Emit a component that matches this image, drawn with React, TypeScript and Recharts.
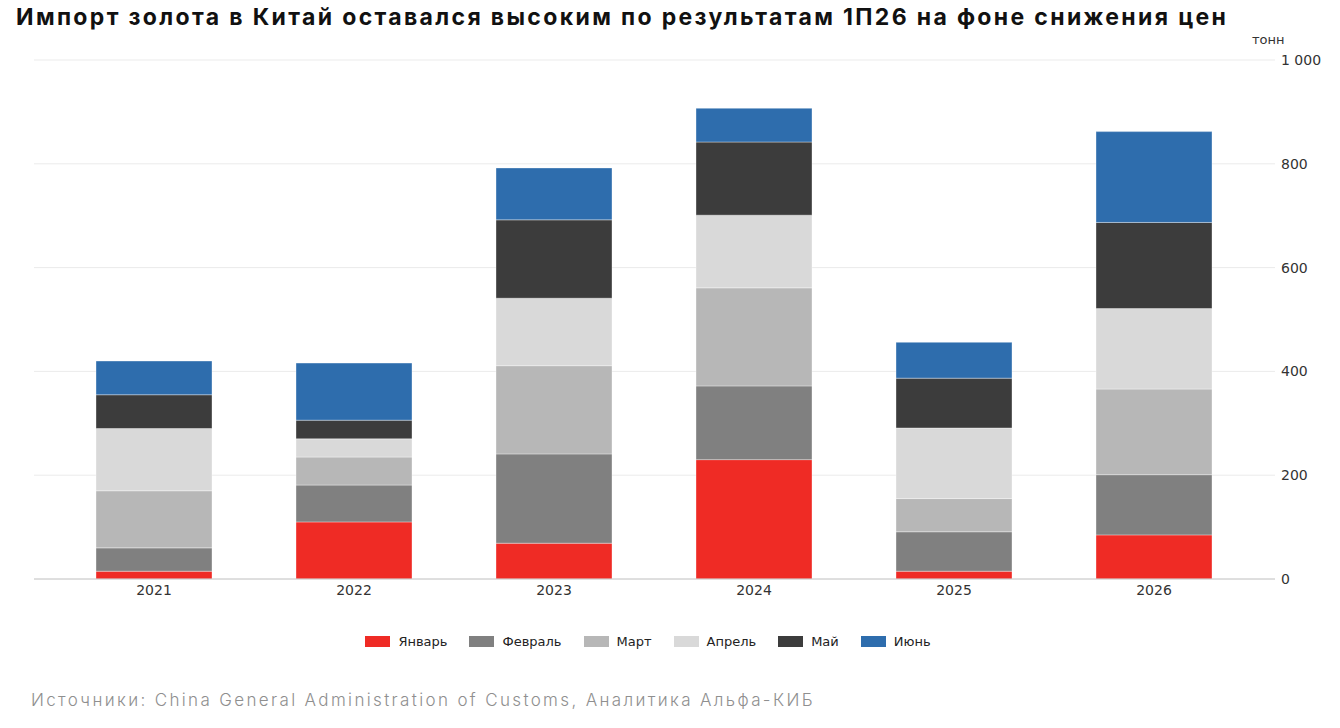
import { BarChart, Bar, XAxis, YAxis, CartesianGrid, Legend } from "recharts"

const RED = "#ef2b25"
const GREY = "#808080"
const SILVER = "#b7b7b7"
const LIGHT = "#d9d9d9"
const DARK = "#3c3c3c"
const BLUE = "#2e6dad"

const years = ["2021", "2022", "2023", "2024", "2025", "2026"]
const jan = [15, 110, 69, 230, 15, 85]
const feb = [45, 71, 172, 142, 76, 116]
const mar = [110, 54, 170, 189, 64, 165]
const apr = [120, 35, 130, 140, 136, 155]
const may = [65, 36, 151, 141, 96, 166]
const jun = [65, 110, 100, 65, 69, 175]
const yTicks = [0, 200, 400, 600, 800, 1000]

const series = [
  { key: "jan", name: "Январь", color: RED, values: jan },
  { key: "feb", name: "Февраль", color: GREY, values: feb },
  { key: "mar", name: "Март", color: SILVER, values: mar },
  { key: "apr", name: "Апрель", color: LIGHT, values: apr },
  { key: "may", name: "Май", color: DARK, values: may },
  { key: "jun", name: "Июнь", color: BLUE, values: jun },
]

const data = years.map((year, i) => {
  const row: Record<string, string | number> = { year }
  series.forEach((s) => {
    row[s.key] = s.values[i]
  })
  return row
})

const AXIS_FONT = "'DejaVu Sans', sans-serif"

const fmt = (v: number) => String(v).replace(/\B(?=(\d{3})+(?!\d))/g, " ")

function MonthLegend() {
  return (
    <div
      style={{
        height: 20,
        display: "flex",
        justifyContent: "center",
        alignItems: "center",
        fontFamily: AXIS_FONT,
        fontSize: 13,
        color: "#222",
      }}
    >
      {series.map((s) => (
        <div key={s.key} style={{ display: "flex", alignItems: "center", margin: "0 11px" }}>
          <span style={{ width: 25, height: 11, background: s.color, marginRight: 8 }} />
          <span>{s.name}</span>
        </div>
      ))}
    </div>
  )
}

export default function App() {
  return (
    <div
      style={{
        position: "fixed",
        left: 0,
        top: 0,
        width: 1340,
        height: 728,
        background: "#fff",
        overflow: "hidden",
      }}
    >
      <div
        style={{
          position: "absolute",
          left: 16,
          top: 3,
          fontFamily: "Inter, sans-serif",
          fontWeight: 700,
          fontSize: 23,
          letterSpacing: 2.35,
          color: "#111",
          whiteSpace: "nowrap",
        }}
      >
        Импорт золота в Китай оставался высоким по результатам 1П26 на фоне снижения цен
      </div>
      <div
        style={{
          position: "absolute",
          left: 1252,
          top: 32,
          fontFamily: AXIS_FONT,
          fontSize: 13,
          color: "#333",
        }}
      >
        тонн
      </div>
      <BarChart
        width={1340}
        height={728}
        data={data}
        margin={{ top: 60, right: 0, left: 34, bottom: 99 }}
        style={{ position: "absolute", left: 0, top: 0 }}
      >
        <CartesianGrid vertical={false} stroke="#ebebeb" />
        <XAxis
          dataKey="year"
          height={30}
          padding={{ left: 20, right: 21 }}
          tickLine={false}
          tickMargin={0}
          stroke="#c8c8c8"
          tick={{ fill: "#333", fontSize: 14, fontFamily: AXIS_FONT }}
        />
        <YAxis
          orientation="right"
          width={65}
          domain={[0, 1000]}
          ticks={yTicks}
          axisLine={false}
          tickLine={false}
          tickMargin={0}
          tickFormatter={fmt}
          tick={{ fill: "#333", fontSize: 14, fontFamily: AXIS_FONT }}
        />
        <Legend
          verticalAlign="bottom"
          content={() => <MonthLegend />}
          wrapperStyle={{ top: 631, left: -22, width: 1340 }}
        />
        {series.map((s) => (
          <Bar
            key={s.key}
            dataKey={s.key}
            name={s.name}
            stackId="a"
            fill={s.color}
            barSize={116}
            stroke="rgba(255,255,255,0.35)"
            strokeWidth={1}
            isAnimationActive={false}
          />
        ))}
      </BarChart>
      <div
        style={{
          position: "absolute",
          left: 31,
          top: 690,
          fontFamily: "Inter, sans-serif",
          fontWeight: 300,
          fontSize: 17,
          letterSpacing: 2.35,
          color: "#8f8f8f",
          whiteSpace: "nowrap",
        }}
      >
        Источники: China General Administration of Customs, Аналитика Альфа-КИБ
      </div>
    </div>
  )
}
